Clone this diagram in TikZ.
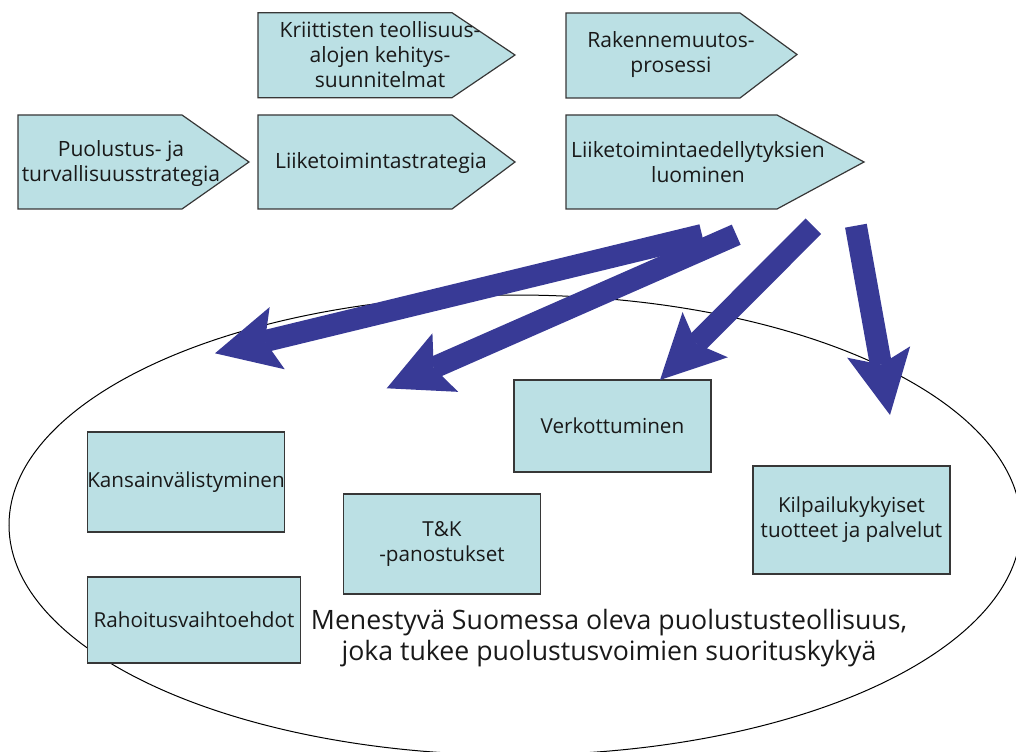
\documentclass[tikz,border=0pt]{standalone}
\usepackage{fontspec}
\setmainfont{Open Sans}
\usetikzlibrary{arrows.meta}
\definecolor{boxfill}{RGB}{187,224,228}
\definecolor{boxline}{RGB}{55,55,55}
\definecolor{arrowblue}{RGB}{56,58,150}
\definecolor{txt}{RGB}{25,25,25}
\begin{document}
\begin{tikzpicture}[x=0.75pt,y=-0.75pt,
  pent/.style={draw=boxline, line width=0.9pt, fill=boxfill, line join=miter},
  lbl/.style={font=\fontsize{15.8}{18.75}\selectfont, text=txt, align=center, inner sep=0pt},
  box/.style={draw=boxline, line width=0.9pt, fill=boxfill, inner sep=0pt,
    font=\fontsize{15.5}{18.75}\selectfont, text=txt, align=center},
  goaltext/.style={font=\fontsize{20}{23.25}\selectfont, text=txt, align=center, inner sep=0pt},
  bigarrow/.style={draw=arrowblue, line width=16.5pt,
    -{Stealth[length=48pt,width=48pt,inset=9.5pt,line width=0pt]}}
]
\useasboundingbox (0,0) rectangle (1016,752);
\clip (0,0) rectangle (1016,752);

% large ellipse
\draw[black, line width=0.75pt] (515,525) ellipse [x radius=506, y radius=230];

% pentagon (chevron) shapes
\draw[pent] (258,12.7) -- (452,12.7) -- (515,55) -- (452,97.7) -- (258,97.7) -- cycle;
\node[lbl] (krit) at (380,55) {Kriittisten teollisuus-\\alojen kehitys-\\suunnitelmat};

\draw[pent] (566,13) -- (740,13) -- (797,54.5) -- (740,98) -- (566,98) -- cycle;
\node[lbl] (rak) at (671,54.5) {Rakennemuutos-\\prosessi};

\draw[pent] (18,115) -- (182,115) -- (249,162) -- (182,209) -- (18,209) -- cycle;
\node[lbl] (puol) at (121,163.5) {Puolustus- ja\\turvallisuusstrategia};

\draw[pent] (258,115) -- (452,115) -- (515,162) -- (452,209) -- (258,209) -- cycle;
\node[lbl] (liike) at (381,163) {Liiketoimintastrategia};

\draw[pent] (566,115) -- (777,115) -- (864,162) -- (777,209) -- (566,209) -- cycle;
\node[lbl] (luo) at (698,162.5) {Liiketoimintaedellytyksien\\luominen};

% boxes inside ellipse
\node[box, minimum width=147.4pt, minimum height=75pt] (kans) at (186,482) {Kansainvälistyminen};
\node[box, minimum width=147.3pt, minimum height=75pt] (tk) at (442,544) {T\&K\\-panostukset};
\node[box, minimum width=160.1pt, minimum height=64.5pt] (rah) at (194,620) {Rahoitusvaihtoehdot};
\node[box, minimum width=147.75pt, minimum height=69pt] (verk) at (612.5,426) {Verkottuminen};
\node[box, minimum width=147.75pt, minimum height=81pt] (kilp) at (851.5,520) {Kilpailukykyiset\\tuotteet ja palvelut};

\node[goaltext] (goal) at (609,638) {Menestyvä Suomessa oleva puolustusteollisuus,\\joka tukee puolustusvoimien suorituskykyä};

% thick arrows
\coordinate (t1) at (702,235);   \coordinate (h1) at (215,353.3);
\coordinate (t2) at (736.2,234.7); \coordinate (h2) at (386.7,388.3);
\coordinate (t3) at (813.4,226.2); \coordinate (h3) at (660,380);
\coordinate (t4) at (855.9,225.7); \coordinate (h4) at (890,415);
\draw[bigarrow] (t1) -- (h1);
\draw[bigarrow] (t2) -- (h2);
\draw[bigarrow] (t3) -- (h3);
\draw[bigarrow] (t4) -- (h4);
\end{tikzpicture}
\end{document}
